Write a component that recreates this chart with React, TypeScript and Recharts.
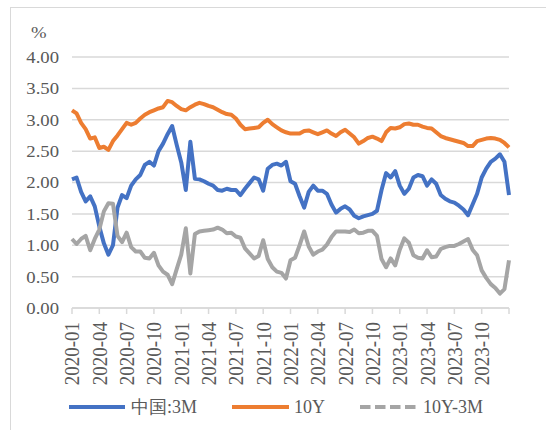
import React from 'react';
import { LineChart, Line, XAxis, YAxis, CartesianGrid } from 'recharts';

// half-monthly observations, 2020-01 .. 2023-12
const dates: string[] = [];
for (let y = 2020; y <= 2023; y++) {
  for (let m = 1; m <= 12; m++) {
    for (const d of [1, 16]) {
      dates.push(`${y}-${String(m).padStart(2, '0')}-${String(d).padStart(2, '0')}`);
    }
  }
}
dates.push('2023-12-31');

const cn3m = [
  2.05, 2.08, 1.85, 1.70, 1.78, 1.62, 1.30, 1.03, 0.85, 1.00, 1.60, 1.80,
  1.75, 1.95, 2.05, 2.12, 2.28, 2.33, 2.27, 2.50, 2.62, 2.77, 2.90, 2.60,
  2.32, 1.88, 2.65, 2.06, 2.05, 2.02, 1.98, 1.95, 1.88, 1.87, 1.90, 1.88,
  1.88, 1.80, 1.90, 1.99, 2.08, 2.05, 1.87, 2.22, 2.28, 2.30, 2.27, 2.33,
  2.02, 1.98, 1.78, 1.60, 1.85, 1.95, 1.87, 1.87, 1.82, 1.65, 1.52, 1.58,
  1.62, 1.57, 1.47, 1.43, 1.46, 1.48, 1.50, 1.55, 1.88, 2.15, 2.08, 2.18,
  1.95, 1.82, 1.90, 2.08, 2.12, 2.10, 1.95, 2.05, 1.98, 1.80, 1.74, 1.70,
  1.68, 1.63, 1.57, 1.48, 1.65, 1.82, 2.08, 2.22, 2.33, 2.38, 2.45, 2.33,
  1.80,
];

const cn10y = [
  3.15, 3.10, 2.95, 2.85, 2.70, 2.72, 2.55, 2.57, 2.52, 2.66, 2.75, 2.85,
  2.95, 2.92, 2.95, 3.02, 3.08, 3.12, 3.15, 3.18, 3.20, 3.30, 3.28, 3.22,
  3.17, 3.15, 3.20, 3.24, 3.27, 3.25, 3.22, 3.20, 3.16, 3.12, 3.09, 3.08,
  3.02, 2.92, 2.85, 2.86, 2.87, 2.88, 2.95, 3.00, 2.93, 2.88, 2.83, 2.80,
  2.78, 2.78, 2.78, 2.82, 2.83, 2.80, 2.77, 2.80, 2.83, 2.78, 2.74, 2.80,
  2.84, 2.78, 2.72, 2.62, 2.66, 2.71, 2.73, 2.70, 2.66, 2.80, 2.87, 2.86,
  2.88, 2.93, 2.94, 2.92, 2.92, 2.89, 2.87, 2.86, 2.80, 2.74, 2.71, 2.69,
  2.67, 2.65, 2.63, 2.58, 2.58, 2.66, 2.68, 2.70, 2.71, 2.70, 2.68, 2.63,
  2.56,
];

const spread = [
  1.10, 1.02, 1.10, 1.15, 0.92, 1.10, 1.25, 1.54, 1.67, 1.66, 1.15, 1.05,
  1.20, 0.97, 0.90, 0.90, 0.80, 0.79, 0.88, 0.68, 0.58, 0.53, 0.38, 0.62,
  0.85, 1.27, 0.55, 1.18, 1.22, 1.23, 1.24, 1.25, 1.28, 1.25, 1.19, 1.20,
  1.14, 1.12, 0.95, 0.87, 0.79, 0.83, 1.08, 0.78, 0.65, 0.58, 0.56, 0.47,
  0.76, 0.80, 1.00, 1.22, 0.98, 0.85, 0.90, 0.93, 1.01, 1.13, 1.22, 1.22,
  1.22, 1.21, 1.25, 1.19, 1.20, 1.23, 1.23, 1.15, 0.78, 0.65, 0.79, 0.68,
  0.93, 1.11, 1.04, 0.84, 0.80, 0.79, 0.92, 0.81, 0.82, 0.94, 0.97, 0.99,
  0.99, 1.02, 1.06, 1.10, 0.93, 0.84, 0.60, 0.48, 0.38, 0.32, 0.23, 0.30,
  0.76,
];

const tickLabels = [
  '2020-01', '2020-04', '2020-07', '2020-10',
  '2021-01', '2021-04', '2021-07', '2021-10',
  '2022-01', '2022-04', '2022-07', '2022-10',
  '2023-01', '2023-04', '2023-07', '2023-10',
];
const tickMonths = [0, 3, 6, 9, 12, 15, 18, 21, 24, 27, 30, 33, 36, 39, 42, 45, 48];
const yTicks = [0, 0.5, 1, 1.5, 2, 2.5, 3, 3.5, 4];

const monthIndex = (d: string) => {
  const [y, m, day] = d.split('-').map(Number);
  return (y - 2020) * 12 + (m - 1) + (day - 1) / 30;
};

const data = dates.map((d, i) => ({
  t: monthIndex(d),
  cn3m: cn3m[i],
  cn10y: cn10y[i],
  spread: spread[i],
}));

const SERIF = "'Liberation Serif', 'Times New Roman', serif";
const TEXT = '#595959';
const GRID = '#d9d9d9';

const YTick = (props: any) => {
  const { x, y, payload } = props;
  return (
    <g transform={`translate(${x},${y}) scale(1.1,1)`}>
      <text textAnchor="end" dy="0.35em" fontSize={17} fontFamily={SERIF} fill={TEXT}>
        {Number(payload.value).toFixed(2)}
      </text>
    </g>
  );
};

const XTick = (props: any) => {
  const { x, y, payload } = props;
  const label = tickLabels[tickMonths.indexOf(payload.value)];
  if (!label) return <g />;
  return (
    <g transform={`translate(${x},${y}) scale(1.12,1) rotate(-90)`}>
      <text textAnchor="end" dy="0.35em" fontSize={19} fontFamily={SERIF} fill={TEXT}>
        {label}
      </text>
    </g>
  );
};

export default function App() {
  return (
    <div style={{ position: 'absolute', left: 0, top: 0, width: 546, height: 430, overflow: 'hidden', background: '#fff' }}>
      <div
        style={{
          position: 'absolute', left: 10, top: 7, width: 600, height: 500,
          borderTop: `1px solid ${GRID}`, borderLeft: `1px solid ${GRID}`,
        }}
      />
      <div style={{ position: 'absolute', left: 0, top: 0 }}>
        <LineChart width={546} height={430} data={data} margin={{ top: 57, right: 37, left: 20, bottom: 42 }}>
          <CartesianGrid vertical={false} stroke={GRID} strokeWidth={1.5} />
          <XAxis
            dataKey="t"
            type="number"
            domain={[0, 48]}
            ticks={tickMonths}
            interval={0}
            height={80}
            axisLine={{ stroke: GRID, strokeWidth: 1.5 }}
            tickLine={{ stroke: GRID, strokeWidth: 1.5 }}
            tickSize={6}
            tickMargin={8}
            tick={<XTick />}
          />
          <YAxis
            domain={[0, 4]}
            ticks={yTicks}
            width={52}
            axisLine={false}
            tickLine={false}
            tickSize={0}
            tickMargin={13}
            tick={<YTick />}
          />
          <Line dataKey="cn3m" stroke="#4472C4" strokeWidth={4} strokeLinejoin="round" dot={false} isAnimationActive={false} />
          <Line dataKey="cn10y" stroke="#ED7D31" strokeWidth={4} strokeLinejoin="round" dot={false} isAnimationActive={false} />
          <Line dataKey="spread" stroke="#A5A5A5" strokeWidth={4} strokeLinejoin="round" dot={false} isAnimationActive={false} />
        </LineChart>
      </div>
      <svg width={546} height={430} style={{ position: 'absolute', left: 0, top: 0, pointerEvents: 'none' }}>
        <g transform="translate(31,38) scale(1.1,1)">
          <text fontSize={17} fontFamily={SERIF} fill={TEXT}>%</text>
        </g>
        <line x1={69} x2={125} y1={407} y2={407} stroke="#4472C4" strokeWidth={4} />
        <text x={131} y={413} fontSize={18} fontFamily={SERIF} fill={TEXT}>中国:3M</text>
        <line x1={232} x2={289} y1={407} y2={407} stroke="#ED7D31" strokeWidth={4} />
        <text x={294} y={413} fontSize={18} fontFamily={SERIF} fill={TEXT}>10Y</text>
        <line x1={360} x2={417} y1={407} y2={407} stroke="#A5A5A5" strokeWidth={4} strokeDasharray="10.5 4.5" />
        <text x={423} y={413} fontSize={18} fontFamily={SERIF} fill={TEXT}>10Y-3M</text>
      </svg>
    </div>
  );
}
